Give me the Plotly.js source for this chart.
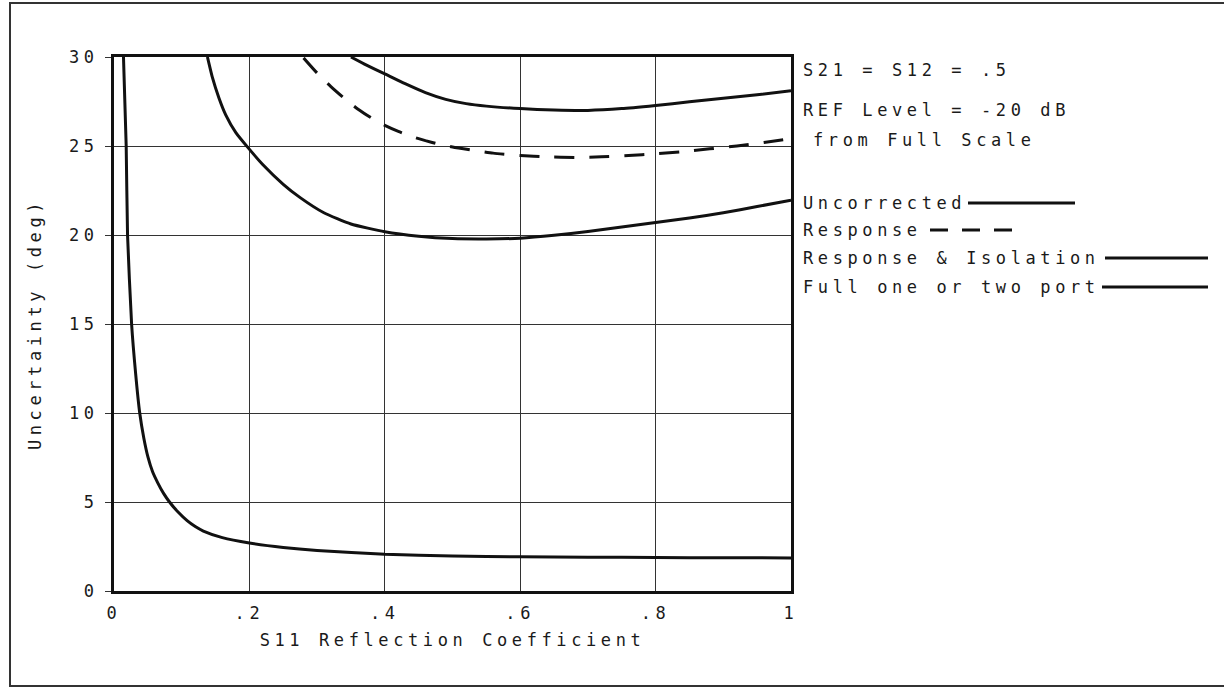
<!DOCTYPE html>
<html>
<head>
<meta charset="utf-8">
<script src="https://cdn.plot.ly/plotly-3.0.1.min.js"></script>
<style>
  html, body { margin: 0; padding: 0; background: #fff; }
  #chart { width: 1224px; height: 689px; }
  text { letter-spacing: 4.6px; }
</style>
</head>
<body>
<div id="chart"></div>
<script>
// ---- Data ----
const xTickVals = [0, 0.2, 0.4, 0.6, 0.8, 1];
const xTickText = ['0', '.2', '.4', '.6', '.8', '1'];
const yTickVals = [0, 5, 10, 15, 20, 25, 30];
const yTickText = ['0', '5', '10', '15', '20', '25', '30'];

// Uncorrected
const xUncorrected = [0.35, 0.37, 0.40, 0.43, 0.46, 0.49, 0.52, 0.55, 0.60, 0.65, 0.70, 0.75, 0.80, 0.85, 0.90, 0.95, 1.0];
const yUncorrected = [30, 29.6, 29.05, 28.5, 28.0, 27.62, 27.38, 27.24, 27.1, 27.02, 27.0, 27.1, 27.28, 27.48, 27.68, 27.88, 28.1];

// Response (dashed)
const xResponse = [0.28, 0.30, 0.32, 0.34, 0.36, 0.38, 0.40, 0.42, 0.44, 0.46, 0.48, 0.50, 0.53, 0.56, 0.60, 0.64, 0.68, 0.72, 0.76, 0.80, 0.84, 0.88, 0.92, 0.96, 1.0];
const yResponse = [29.95, 29.1, 28.35, 27.68, 27.08, 26.58, 26.16, 25.82, 25.53, 25.3, 25.1, 24.94, 24.76, 24.6, 24.47, 24.39, 24.36, 24.39, 24.46, 24.56, 24.68, 24.84, 25.0, 25.2, 25.42];

// Response & Isolation
const xRespIso = [0.138, 0.145, 0.155, 0.165, 0.18, 0.197, 0.22, 0.25, 0.275, 0.31, 0.35, 0.40, 0.45, 0.50, 0.55, 0.60, 0.65, 0.70, 0.75, 0.80, 0.85, 0.90, 0.95, 1.0];
const yRespIso = [30, 28.9, 27.7, 26.75, 25.75, 24.95, 23.95, 22.85, 22.1, 21.25, 20.62, 20.18, 19.93, 19.8, 19.78, 19.82, 19.98, 20.2, 20.45, 20.7, 20.95, 21.25, 21.6, 21.95];

// Full one or two port
const xFull = [0.014, 0.018, 0.020, 0.026, 0.032, 0.038, 0.044, 0.050, 0.057, 0.065, 0.073, 0.082, 0.095, 0.108, 0.12, 0.132, 0.16, 0.20, 0.25, 0.30, 0.40, 0.50, 0.60, 0.70, 0.80, 0.90, 1.0];
const yFull = [30, 25, 20, 15, 12.2, 10, 8.6, 7.55, 6.7, 6.05, 5.5, 5.0, 4.42, 3.95, 3.62, 3.37, 3.0, 2.7, 2.45, 2.28, 2.07, 1.97, 1.92, 1.9, 1.88, 1.87, 1.86];

const seriesNames = ['Uncorrected', 'Response', 'Response & Isolation', 'Full one or two port'];
const noteLines = ['S21 = S12 = .5', 'REF Level = -20 dB', 'from Full Scale'];

// ---- Plot ----
const FONT = "'DejaVu Sans Mono', 'Liberation Mono', monospace";
const INK = '#1a1a1a';

function curve(x, y, name, dash) {
  return {
    x: x, y: y, name: name, type: 'scatter', mode: 'lines',
    line: { color: '#111', width: 3, dash: dash || 'solid', shape: 'spline', smoothing: 0.5 },
    hoverinfo: 'x+y+name', showlegend: false
  };
}

const data = [
  curve(xUncorrected, yUncorrected, seriesNames[0]),
  curve(xResponse, yResponse, seriesNames[1], '20px,15px'),
  curve(xRespIso, yRespIso, seriesNames[2]),
  curve(xFull, yFull, seriesNames[3])
];

// helpers to place decorations in pixel terms relative to plot area
const L = 114, T = 57, W = 677, H = 534;
const px = v => (v - L) / W;
const py = v => (T + H - v) / H;

function note(text, xPix, yPix) {
  return {
    text: text, xref: 'paper', yref: 'paper', x: px(xPix), y: py(yPix),
    xanchor: 'left', yanchor: 'middle', align: 'left', showarrow: false,
    borderpad: 0,
    font: { family: FONT, size: 17, color: INK }
  };
}
function seg(x0, x1, y, dash) {
  return {
    type: 'line', xref: 'paper', yref: 'paper',
    x0: px(x0), x1: px(x1), y0: py(y), y1: py(y),
    line: { color: '#111', width: 3, dash: dash || 'solid' }
  };
}

const layout = {
  width: 1224, height: 689,
  margin: { l: L, r: 1224 - L - W, t: T, b: 689 - T - H },
  paper_bgcolor: '#fff', plot_bgcolor: '#fff',
  showlegend: false,
  font: { family: FONT, size: 17, color: INK },
  xaxis: {
    range: [0, 1], fixedrange: true,
    tickvals: xTickVals, ticktext: xTickText,
    showgrid: true, gridcolor: '#333', gridwidth: 1,
    zeroline: false, showline: true, linecolor: '#111', linewidth: 3, mirror: true,
    ticks: '', ticklabelstandoff: 5,
    tickfont: { family: FONT, size: 17, color: INK },
    title: { text: 'S11 Reflection Coefficient', standoff: 12, font: { family: FONT, size: 17, color: INK } }
  },
  yaxis: {
    range: [0, 30], fixedrange: true,
    tickvals: yTickVals, ticktext: yTickText,
    showgrid: true, gridcolor: '#333', gridwidth: 1,
    zeroline: false, showline: true, linecolor: '#111', linewidth: 3, mirror: true,
    ticks: 'outside', ticklen: 6, tickwidth: 1, tickcolor: '#333', ticklabelstandoff: 3,
    tickfont: { family: FONT, size: 17, color: INK },
    title: { text: 'Uncertainty (deg)', standoff: 23, font: { family: FONT, size: 17, color: INK } }
  },
  annotations: [
    note(noteLines[0], 802, 70),
    note(noteLines[1], 802, 110),
    note(noteLines[2], 812, 140),
    note(seriesNames[0], 802, 203),
    note(seriesNames[1], 802, 230),
    note(seriesNames[2], 802, 258),
    note(seriesNames[3], 802, 287)
  ],
  shapes: [
    seg(968, 1075, 203),
    seg(930, 1013, 230, '18px,14px'),
    seg(1105, 1208, 258),
    seg(1102, 1208, 287),
    {
      type: 'rect', xref: 'paper', yref: 'paper',
      x0: px(10), x1: px(1228), y0: py(686), y1: py(3),
      line: { color: '#333', width: 2 }, fillcolor: 'rgba(0,0,0,0)', layer: 'below'
    }
  ]
};

Plotly.newPlot('chart', data, layout, { displayModeBar: false, staticPlot: true });
</script>
</body>
</html>
